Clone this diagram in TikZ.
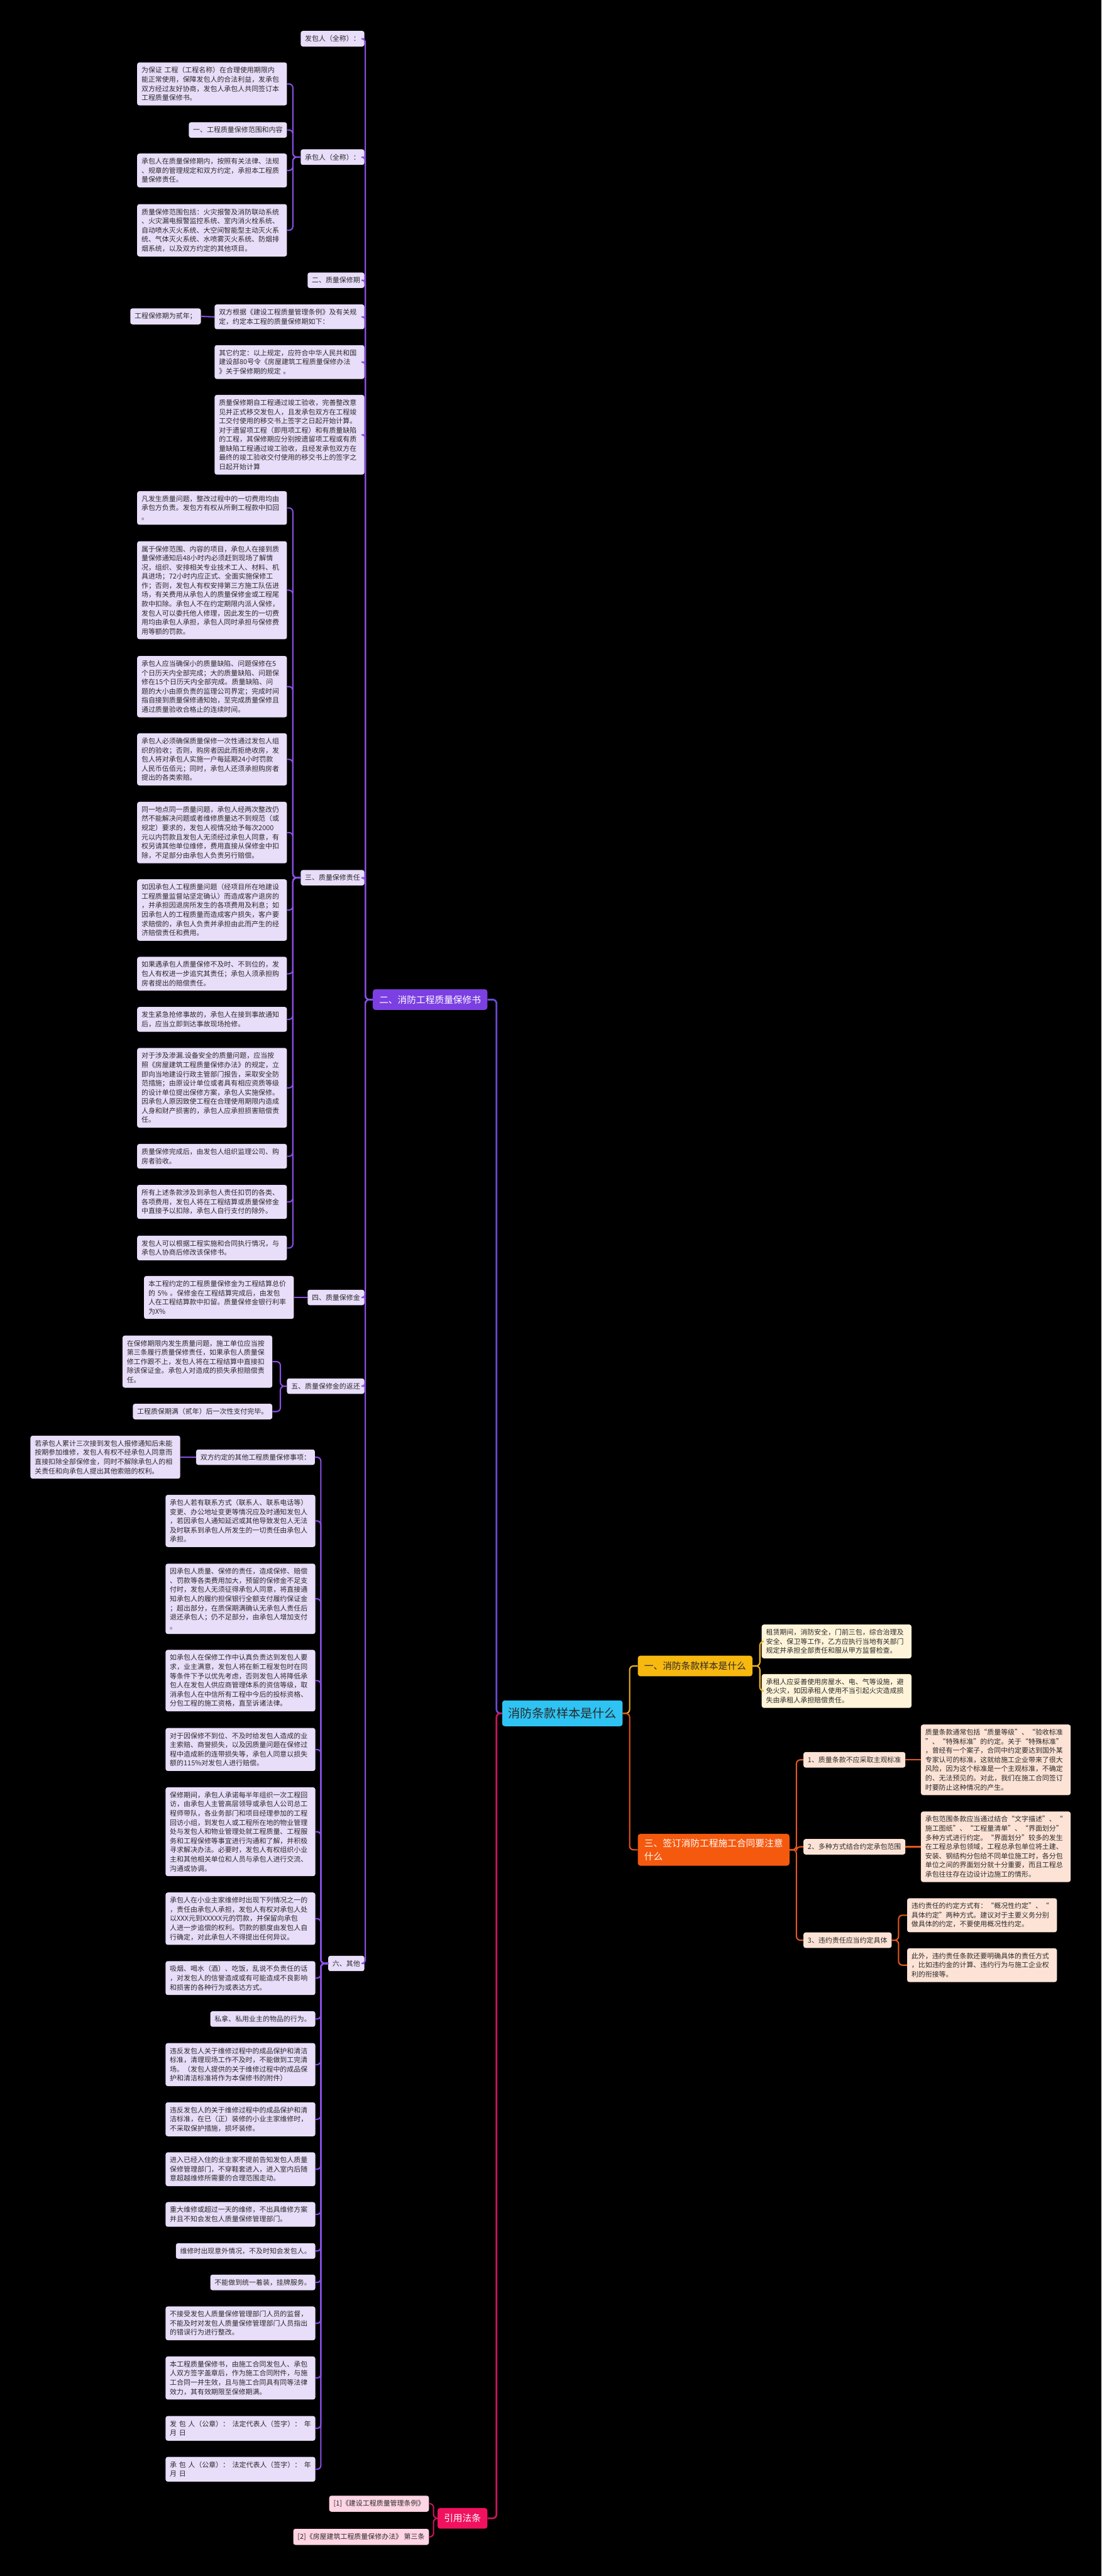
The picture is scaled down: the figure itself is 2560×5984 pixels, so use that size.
\documentclass[tikz,border=0pt]{standalone}
\usepackage{fontspec}
\setmainfont{Noto Sans CJK SC}
\usetikzlibrary{positioning, calc}

\definecolor{ink}{HTML}{2A2A2A}
\definecolor{boxlav}{HTML}{E8DEF9}
\definecolor{boxlemon}{HTML}{FFF4D9}
\definecolor{boxpeach}{HTML}{FDE3D6}
\definecolor{boxpink}{HTML}{FFD4E3}
\definecolor{rootcyan}{HTML}{2EC3F2}
\definecolor{headviolet}{HTML}{7B3FE2}
\definecolor{headgold}{HTML}{F7B80F}
\definecolor{headorange}{HTML}{F5590E}
\definecolor{headrose}{HTML}{F0125E}
\definecolor{lineviolet}{HTML}{8A4FE6}
\definecolor{linetrunk}{HTML}{6A4BD4}
\definecolor{linegold}{HTML}{F2B51C}
\definecolor{lineorange}{HTML}{E6581C}
\definecolor{linerose}{HTML}{C8175C}

\newcommand{\boxfont}{\fontsize{16}{21.3}\selectfont}
\newcommand{\headfont}{\fontsize{21.5}{30}\selectfont}
\newcommand{\rootfont}{\fontsize{28}{34}\selectfont}

\begin{document}
\begin{tikzpicture}[x=1pt, y=-1pt,
  leaf/.style={fill=boxlav, text=ink, rounded corners=5pt, font=\boxfont, inner xsep=10pt, inner ysep=10.5pt, align=left, anchor=east},
  wide/.style={leaf, text width=328pt},
  head/.style={rounded corners=6pt, font=\headfont, inner xsep=15pt, inner ysep=14pt, align=left},
  vlink/.style={draw=lineviolet, line width=3pt, rounded corners=9pt},
  glink/.style={draw=linegold, line width=3pt, rounded corners=9pt},
  olink/.style={draw=lineorange, line width=3pt, rounded corners=9pt},
  rlink/.style={draw=linerose, line width=3pt, rounded corners=9pt}
]
\fill[black] (0,0) rectangle (2560,5984);
\useasboundingbox (0,0) rectangle (2560,5984);

\node [fill=rootcyan, text=ink, rounded corners=6pt, font=\rootfont, inner xsep=14pt, inner ysep=17pt] (root) at (1307,3980) {消防条款样本是什么};
\node [head, fill=headviolet, text=white, anchor=east] (bao) at (1133,2322) {二、消防工程质量保修书};
\node [head, fill=headrose, text=white, anchor=east] (yin) at (1133,5850) {引用法条};
\node [head, fill=headgold, text=ink, anchor=west] (ybr) at (1482,3870) {一、消防条款样本是什么};
\node [head, fill=headorange, text=white, anchor=west, inner ysep=12pt] (sbr) at (1482,4297) {三、签订消防工程施工合同要注意\\什么};

% left: sections
\node [leaf] (s1) at (847,90) {发包人（全称）：};
\node [leaf] (s2) at (847,365) {承包人（全称）：};
\node [leaf] (s3) at (847,651) {二、质量保修期};
\node [wide] (q1) at (847,736) {双方根据《建设工程质量管理条例》及有关规\\定，约定本工程的质量保修期如下：};
\node [leaf] (q1a) at (467,735) {工程保修期为贰年；};
\node [wide] (q2) at (847,841) {其它约定：以上规定，应符合中华人民共和国\\建设部80号令《房屋建筑工程质量保修办法\\》关于保修期的规定 。};
\node [wide] (q3) at (847,1010) {质量保修期自工程通过竣工验收，完善整改意\\见并正式移交发包人，且发承包双方在工程竣\\工交付使用的移交书上签字之日起开始计算。\\对于遗留项工程（即甩项工程）和有质量缺陷\\的工程，其保修期应分别按遗留项工程或有质\\量缺陷工程通过竣工验收，且经发承包双方在\\最终的竣工验收交付使用的移交书上的签字之\\日起开始计算};
\node [leaf] (s4) at (847,2039) {三、质量保修责任};
\node [leaf] (s5) at (847,3014) {四、质量保修金};
\node [leaf] (s6) at (847,3220) {五、质量保修金的返还};
\node [leaf] (s7) at (847,4561) {六、其他};

\node [wide] (b1) at (667,195) {为保证 工程（工程名称）在合理使用期限内\\能正常使用，保障发包人的合法利益，发承包\\双方经过友好协商，发包人承包人共同签订本\\工程质量保修书。};
\node [leaf] (b2) at (667,302) {一、工程质量保修范围和内容};
\node [wide] (b3) at (667,396) {承包人在质量保修期内，按照有关法律、法规\\、规章的管理规定和双方约定，承担本工程质\\量保修责任。};
\node [wide] (b4) at (667,535) {质量保修范围包括：火灾报警及消防联动系统\\、火灾漏电报警监控系统、室内消火栓系统、\\自动喷水灭火系统、大空间智能型主动灭火系\\统、气体灭火系统、水喷雾灭火系统、防烟排\\烟系统，以及双方约定的其他项目。};

\node [wide] (c1) at (667,1180) {凡发生质量问题，整改过程中的一切费用均由\\承包方负责。发包方有权从所剩工程款中扣回\\。};
\node [wide] (c2) at (667,1371) {属于保修范围、内容的项目，承包人在接到质\\量保修通知后48小时内必须赶到现场了解情\\况，组织、安排相关专业技术工人、材料、机\\具进场；72小时内应正式、全面实施保修工\\作；否则，发包人有权安排第三方施工队伍进\\场，有关费用从承包人的质量保修金或工程尾\\款中扣除。承包人不在约定期限内派人保修，\\发包人可以委托他人修理，因此发生的一切费\\用均由承包人承担，承包人同时承担与保修费\\用等额的罚款。};
\node [wide] (c3) at (667,1595) {承包人应当确保小的质量缺陷、问题保修在5\\个日历天内全部完成；大的质量缺陷、问题保\\修在15个日历天内全部完成。质量缺陷、问\\题的大小由原负责的监理公司界定；完成时间\\指自接到质量保修通知始，至完成质量保修且\\通过质量验收合格止的连续时间。};
\node [wide] (c4) at (667,1764) {承包人必须确保质量保修一次性通过发包人组\\织的验收；否则，购房者因此而拒绝收房，发\\包人将对承包人实施一户每延期24小时罚款\\人民币伍佰元；同时，承包人还须承担购房者\\提出的各类索赔。};
\node [wide] (c5) at (667,1934) {同一地点同一质量问题，承包人经两次整改仍\\然不能解决问题或者维修质量达不到规范（或\\规定）要求的，发包人视情况给予每次2000\\元以内罚款且发包人无须经过承包人同意，有\\权另请其他单位维修，费用直接从保修金中扣\\除，不足部分由承包人负责另行赔偿。};
\node [wide] (c6) at (667,2114) {如因承包人工程质量问题（经项目所在地建设\\工程质量监督站坚定确认）而造成客户退房的\\，并承担因退房所发生的各项费用及利息；如\\因承包人的工程质量而造成客户损失，客户要\\求赔偿的，承包人负责并承担由此而产生的经\\济赔偿责任和费用。};
\node [wide] (c7) at (667,2262) {如果遇承包人质量保修不及时、不到位的，发\\包人有权进一步追究其责任；承包人须承担购\\房者提出的赔偿责任。};
\node [wide] (c8) at (667,2368) {发生紧急抢修事故的，承包人在接到事故通知\\后，应当立即到达事故现场抢修。};
\node [wide] (c9) at (667,2527) {对于涉及渗漏.设备安全的质量问题，应当按\\照《房屋建筑工程质量保修办法》的规定，立\\即向当地建设行政主管部门报告，采取安全防\\范措施；由原设计单位或者具有相应资质等级\\的设计单位提出保修方案，承包人实施保修。\\因承包人原因致使工程在合理使用期限内造成\\人身和财产损害的，承包人应承担损害赔偿责\\任。};
\node [wide] (c10) at (667,2686) {质量保修完成后，由发包人组织监理公司、购\\房者验收。};
\node [wide] (c11) at (667,2792) {所有上述条款涉及到承包人责任扣罚的各类、\\各项费用，发包人将在工程结算或质量保修金\\ 中直接予以扣除，承包人自行支付的除外。};
\node [wide] (c12) at (667,2899) {发包人可以根据工程实施和合同执行情况，与\\承包人协商后修改该保修书。};

\node [wide] (m1) at (683,3014) {本工程约定的工程质量保修金为工程结算总价\\的 5\% 。保修金在工程结算完成后，由发包\\人在工程结算款中扣留。质量保修金银行利率\\为X\%};
\node [wide] (f1) at (633,3163) {在保修期限内发生质量问题，施工单位应当按\\第三条履行质量保修责任，如果承包人质量保\\修工作跟不上，发包人将在工程结算中直接扣\\除该保证金。承包人对造成的损失承担赔偿责\\任。};
\node [leaf] (f2) at (633,3279) {工程质保期满（贰年）后一次性支付完毕。};

\node [leaf] (o1) at (732,3385) {双方约定的其他工程质量保修事项：};
\node [wide] (o1a) at (419,3385) {若承包人累计三次接到发包人报修通知后未能\\按期参加维修，发包人有权不经承包人同意而\\直接扣除全部保修金，同时不解除承包人的相\\关责任和向承包人提出其他索赔的权利。};
\node [wide] (o2) at (733,3533) {承包人若有联系方式（联系人、联系电话等）\\变更、办公地址变更等情况应及时通知发包人\\，若因承包人通知延迟或其他导致发包人无法\\及时联系到承包人所发生的一切责任由承包人\\承担。};
\node [wide] (o3) at (733,3714) {因承包人质量、保修的责任，造成保修、赔偿\\、罚款等各类费用加大，预留的保修金不足支\\付时，发包人无须征得承包人同意，将直接通\\知承包人的履约担保银行全额支付履约保证金\\；超出部分，在质保期满确认无承包人责任后\\退还承包人；仍不足部分，由承包人增加支付\\。};
\node [wide] (o4) at (733,3904) {如承包人在保修工作中认真负责达到发包人要\\求，业主满意，发包人将在新工程发包时在同\\等条件下予以优先考虑，否则发包人将降低承\\包人在发包人供应商管理体系的资信等级，取\\消承包人在中信所有工程中今后的投标资格、\\分包工程的施工资格，直至诉诸法律。};
\node [wide] (o5) at (733,4064) {对于因保修不到位、不及时给发包人造成的业\\主索赔、商誉损失，以及因质量问题在保修过\\程中造成新的连带损失等，承包人同意以损失\\额的115\%对发包人进行赔偿。};
\node [wide] (o6) at (733,4255) {保修期间，承包人承诺每半年组织一次工程回\\访，由承包人主管高层领导或承包人公司总工\\程师带队，各业务部门和项目经理参加的工程\\回访小组，到发包人或工程所在地的物业管理\\处与发包人和物业管理处就工程质量、工程服\\务和工程保修等事宜进行沟通和了解，并积极\\寻求解决办法。必要时，发包人有权组织小业\\主和其他相关单位和人员与承包人进行交流、\\沟通或协调。};
\node [wide] (o7) at (733,4457) {承包人在小业主家维修时出现下列情况之一的\\，责任由承包人承担，发包人有权对承包人处\\以XXX元到XXXXX元的罚款，并保留向承包\\人进一步追偿的权利。罚款的额度由发包人自\\行确定，对此承包人不得提出任何异议。};
\node [wide] (o8) at (733,4595) {吸烟、喝水（酒）、吃饭，乱说不负责任的话\\，对发包人的信誉造成或有可能造成不良影响\\和损害的各种行为或表达方式。};
\node [leaf] (o9) at (733,4690) {私拿、私用业主的物品的行为。};
\node [wide] (o10) at (733,4796) {违反发包人关于维修过程中的成品保护和清洁\\标准，清理现场工作不及时，不能做到工完清\\场。（发包人提供的关于维修过程中的成品保\\护和清洁标准将作为本保修书的附件）};
\node [wide] (o11) at (733,4923) {违反发包人的关于维修过程中的成品保护和清\\洁标准，在已（正）装修的小业主家维修时，\\不采取保护措施，损坏装修。};
\node [wide] (o12) at (733,5039) {进入已经入住的业主家不提前告知发包人质量\\保修管理部门，不穿鞋套进入，进入室内后随\\意超越维修所需要的合理范围走动。};
\node [wide] (o13) at (733,5144) {重大维修或超过一天的维修，不出具维修方案\\并且不知会发包人质量保修管理部门。};
\node [leaf] (o14) at (733,5229) {维修时出现意外情况，不及时知会发包人。};
\node [leaf] (o15) at (733,5302) {不能做到统一着装，挂牌服务。};
\node [wide] (o16) at (733,5397) {不接受发包人质量保修管理部门人员的监督，\\不能及时对发包人质量保修管理部门人员指出\\的错误行为进行整改。};
\node [wide] (o17) at (733,5524) {本工程质量保修书，由施工合同发包人、承包\\人双方签字盖章后，作为施工合同附件，与施\\工合同一并生效，且与施工合同具有同等法律\\效力，其有效期限至保修期满。};
\node [wide] (o18) at (733,5641) {发 包 人（公章）：\hfill 法定代表人（签字）：\hfill 年\\ 月 日};
\node [wide] (o19) at (733,5736) {承 包 人（公章）：\hfill 法定代表人（签字）：\hfill 年\\ 月 日};

\node [leaf, fill=boxpink] (ref1) at (997,5816) {[1]《建设工程质量管理条例》};
\node [leaf, fill=boxpink] (ref2) at (997,5893) {[2]《房屋建筑工程质量保修办法》 第三条};

% right side
\node [wide, anchor=west, fill=boxlemon] (y1) at (1770,3813) {租赁期间，消防安全，门前三包，综合治理及\\安全、保卫等工作，乙方应执行当地有关部门\\规定并承担全部责任和服从甲方监督检查。};
\node [wide, anchor=west, fill=boxlemon] (y2) at (1770,3928) {承租人应妥善使用房屋水、电、气等设施，避\\免火灾，如因承租人使用不当引起火灾造成损\\失由承租人承担赔偿责任。};
\node [leaf, anchor=west, fill=boxpeach] (r1) at (1867,4088) {1、质量条款不应采取主观标准};
\node [leaf, anchor=west, fill=boxpeach] (r2) at (1867,4290) {2、多种方式结合约定承包范围};
\node [leaf, anchor=west, fill=boxpeach] (r3) at (1867,4507) {3、违约责任应当约定具体};
\node [wide, anchor=west, fill=boxpeach] (t1) at (2140,4088) {质量条款通常包括“质量等级”、“验收标准\\”、“特殊标准”的约定。关于“特殊标准”\\，曾经有一个案子，合同中约定要达到国外某\\专家认可的标准，这就给施工企业带来了很大\\风险，因为这个标准是一个主观标准，不确定\\的、无法预见的。对此，我们在施工合同签订\\时要防止这种情况的产生。};
\node [wide, anchor=west, fill=boxpeach] (t2) at (2140,4290) {承包范围条款应当通过结合“文字描述”、“\\施工图纸”、“工程量清单”、“界面划分”\\多种方式进行约定。“界面划分”较多的发生\\在工程总承包领域，工程总承包单位将土建、\\安装、钢结构分包给不同单位施工时，各分包\\单位之间的界面划分就十分重要，而且工程总\\承包往往存在边设计边施工的情形。};
\node [wide, anchor=west, fill=boxpeach] (t3a) at (2108,4449) {违约责任的约定方式有：“概况性约定”、“\\具体约定”两种方式。建议对于主要义务分别\\做具体的约定，不要使用概况性约定。};
\node [wide, anchor=west, fill=boxpeach] (t3b) at (2108,4565) {此外，违约责任条款还要明确具体的责任方式\\，比如违约金的计算、违约行为与施工企业权\\利的衔接等。};

\draw [vlink, draw=linetrunk, line width=4pt] (root.west) -- ++(-13,0) |- (bao.east);
\draw [rlink, line width=4pt] (root.west) -- ++(-13,0) |- (yin.east);
\draw [glink] (root.east) -- ++(16,0) |- (ybr.west);
\draw [olink] (root.east) -- ++(16,0) |- (sbr.west);

\foreach \n in {s1,s2,s3,q1,q2,q3,s4,s5,s6,s7}
  \draw [vlink] (bao.west) -- ++(-17,0) |- (\n.east);
\foreach \n in {b1,b2,b3,b4}
  \draw [vlink] (s2.west) -- ++(-18,0) |- (\n.east);
\draw [vlink] (q1.west) -- (q1a.east);
\foreach \n in {1,...,12}
  \draw [vlink] (s4.west) -- ++(-18,0) |- (c\n.east);
\draw [vlink] (s5.west) -- (m1.east);
\foreach \n in {f1,f2}
  \draw [vlink] (s6.west) -- ++(-15,0) |- (\n.east);
\foreach \n in {1,...,19}
  \draw [vlink] (s7.west) -- ++(-17,0) |- (o\n.east);
\draw [vlink] (o1.west) -- (o1a.east);
\foreach \n in {ref1,ref2}
  \draw [rlink] (yin.west) -- ++(-9,0) |- (\n.east);

\foreach \n in {y1,y2}
  \draw [glink] (ybr.east) -- ++(17,0) |- (\n.west);
\foreach \n in {r1,r2,r3}
  \draw [olink] (sbr.east) -- ++(16,0) |- (\n.west);
\draw [olink] (r1.east) -- (t1.west);
\draw [olink] (r2.east) -- (t2.west);
\foreach \n in {t3a,t3b}
  \draw [olink] (r3.east) -- ++(16,0) |- (\n.west);
\end{tikzpicture}
\end{document}
